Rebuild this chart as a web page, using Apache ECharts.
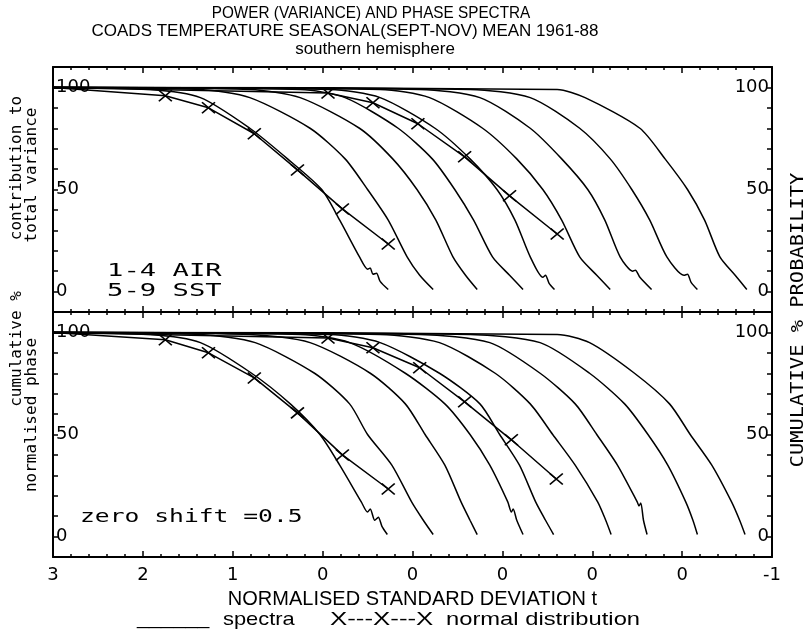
<!DOCTYPE html>
<html><head><meta charset="utf-8">
<script src="https://cdn.jsdelivr.net/npm/echarts@6/dist/echarts.min.js"></script>
<style>html,body{margin:0;padding:0;background:#fff}#c{width:809px;height:631px}</style>
</head><body><div id="c"></div>
<script>
// x axis: value axis from -5 to 3 (reversed), one tick per unit, labels as printed
const xTickLabels = ['3','2','1','0','0','0','0','0','-1']; // for values 3,2,...,-5
const yLabelValues = [0, 50, 100];

// ---- top panel: power (variance) spectra, curves 1-4 AIR, 5-9 SST ----
const topS1 = [[3,100],[1.92,99],[1.36,95],[0.81,80],[0.39,65],[0.01,50],[-0.19,35],[-0.41,17],[-0.50,11],[-0.53,11.5],[-0.56,8.5],[-0.60,9],[-0.64,5],[-0.73,1]];
const topS2 = [[3,100],[1.36,99],[0.81,95],[0.14,80],[-0.25,65],[-0.50,50],[-0.73,35],[-0.94,17],[-1.08,8],[-1.23,1]];
const topS3 = [[3,100],[0.81,99],[0.25,95],[-0.41,80],[-0.78,65],[-1.05,50],[-1.26,35],[-1.45,17],[-1.59,8],[-1.72,1]];
const topS4 = [[3,100],[0.25,99],[-0.25,95],[-0.84,80],[-1.22,65],[-1.47,50],[-1.68,35],[-1.89,17],[-2.08,8],[-2.23,1]];
const topS5 = [[3,100],[-0.08,99],[-0.64,95],[-1.25,80],[-1.64,65],[-1.94,50],[-2.14,35],[-2.31,17],[-2.45,7],[-2.48,8],[-2.52,4],[-2.58,1]];
const topS6 = [[3,100],[-0.64,99],[-1.19,95],[-1.78,80],[-2.16,65],[-2.45,50],[-2.66,35],[-2.86,17],[-3.05,8],[-3.20,1]];
const topS7 = [[3,100],[-1.08,99],[-1.75,95],[-2.31,80],[-2.66,65],[-2.95,50],[-3.14,35],[-3.31,17],[-3.45,10],[-3.48,10.5],[-3.53,7],[-3.66,1]];
const topS8 = [[3,100],[-1.64,99],[-2.31,95],[-2.86,80],[-3.20,65],[-3.44,50],[-3.64,35],[-3.83,17],[-4.02,8],[-4.06,8.5],[-4.10,4.5],[-4.17,1]];
const topS9 = [[3,100],[-2.61,99],[-2.92,95],[-3.53,80],[-3.81,65],[-4.06,50],[-4.25,35],[-4.42,17],[-4.59,8],[-4.72,1]];
const topNormA = [[1.75,95.9],[1.27,90.0],[0.76,77.3],[0.28,59.6],[-0.22,40.5],[-0.73,23.3]];
const topNormB = [[-0.06,97.3],[-0.56,92.5],[-1.06,82.2],[-1.58,66.0],[-2.08,46.9],[-2.61,28.2]];

// ---- bottom panel: cumulative % normalised phase ----
const botS1 = [[3,100],[1.92,99],[1.36,95],[0.79,80],[0.36,65],[0.03,50],[-0.19,35],[-0.43,17],[-0.50,12],[-0.53,13.5],[-0.58,8],[-0.62,9.5],[-0.66,5],[-0.72,1]];
const botS2 = [[3,100],[1.36,99],[0.75,95],[0.09,80],[-0.30,65],[-0.50,50],[-0.77,35],[-0.99,17],[-1.12,8],[-1.23,1]];
const botS3 = [[3,100],[0.81,99],[0.14,95],[-0.53,80],[-0.92,65],[-1.14,50],[-1.36,35],[-1.54,17],[-1.64,8],[-1.72,1]];
const botS4 = [[3,100],[0.25,99],[-0.30,95],[-0.92,80],[-1.36,65],[-1.64,50],[-1.86,35],[-2.06,17],[-2.10,12],[-2.12,13.5],[-2.16,8],[-2.23,1]];
const botS5 = [[3,100],[-0.08,99],[-0.64,95],[-1.30,80],[-1.75,65],[-1.97,50],[-2.19,35],[-2.37,17],[-2.48,8],[-2.57,1]];
const botS6 = [[3,100],[-0.64,99],[-1.30,95],[-1.92,80],[-2.31,65],[-2.56,50],[-2.81,35],[-3.06,17],[-3.15,8],[-3.21,1]];
const botS7 = [[3,100],[-1.08,99],[-1.86,95],[-2.42,80],[-2.81,65],[-3.05,50],[-3.28,35],[-3.50,17],[-3.52,15],[-3.54,16.5],[-3.57,8],[-3.61,1]];
const botS8 = [[3,100],[-1.64,99],[-2.42,95],[-2.97,80],[-3.36,65],[-3.62,50],[-3.84,35],[-4.04,17],[-4.12,8],[-4.17,1]];
const botS9 = [[3,100],[-2.61,99],[-2.97,95],[-3.47,80],[-3.86,65],[-4.09,50],[-4.33,35],[-4.55,17],[-4.64,8],[-4.70,1]];
const botNormA = [[1.75,96.4],[1.27,90.0],[0.76,77.7],[0.28,60.6],[-0.22,40.0],[-0.73,23.3]];
const botNormB = [[-0.06,97.3],[-0.56,92.5],[-1.08,82.7],[-1.58,66.0],[-2.10,47.4],[-2.60,28.2]];

const topSpectra = [topS1,topS2,topS3,topS4,topS5,topS6,topS7,topS8,topS9];
const botSpectra = [botS1,botS2,botS3,botS4,botS5,botS6,botS7,botS8,botS9];

const chart = echarts.init(document.getElementById('c'), null, {renderer:'canvas'});
const BLACK = '#000';
const monoFont = '"DejaVu Sans Mono"';
const LEFT = 53, RIGHT = 809 - 772, TOP = 67, PH = 245;

function xAxes(gi, pos, showLabel) {
  return {
    gridIndex: gi, type: 'value', min: -5, max: 3, interval: 1, inverse: true, position: pos,
    axisLine: {show: true, onZero: false, lineStyle: {color: BLACK, width: 2}},
    axisTick: {show: true, inside: true, length: 6, lineStyle: {color: BLACK, width: 1.5}},
    minorTick: {show: true, splitNumber: 5, length: 3, lineStyle: {color: BLACK, width: 1.5}},
    splitLine: {show: false},
    axisLabel: {show: showLabel, margin: 9, color: BLACK, fontFamily: 'DejaVu Sans', fontSize: 18,
      formatter: v => xTickLabels[Math.round(3 - v)]},
    name: showLabel ? 'NORMALISED STANDARD DEVIATION t' : '',
    nameLocation: 'middle', nameGap: 32,
    nameTextStyle: {color: BLACK, fontFamily: 'Liberation Sans', fontSize: 20}
  };
}
function yAxes(gi, pos) {
  return {
    gridIndex: gi, type: 'value', min: -10, max: 110, interval: 10, position: pos,
    axisLine: {show: true, onZero: false, lineStyle: {color: BLACK, width: 2}},
    axisTick: {show: true, inside: true, length: 5, lineStyle: {color: BLACK, width: 1.5}},
    splitLine: {show: false},
    axisLabel: {show: true, inside: true, margin: 3, color: BLACK, fontFamily: 'DejaVu Sans', fontSize: 18,
      formatter: v => (yLabelValues.indexOf(v) >= 0 ? String(v) : '')}
  };
}

const series = [];
function addPanel(gi, spectra, normA, normB) {
  const yi = gi * 2;
  spectra.forEach((d, k) => series.push({
    type: 'line', xAxisIndex: gi * 2, yAxisIndex: yi, data: d, smooth: 0.25,
    showSymbol: false, symbol: 'none', lineStyle: {color: BLACK, width: 1.5}, silent: true, z: 3
  }));
  [normA, normB].forEach(d => series.push({
    type: 'line', xAxisIndex: gi * 2, yAxisIndex: yi,
    data: [{value: [3, 100], symbol: 'none'}].concat(d.map(p => ({value: p}))),
    symbol: 'path://M0,0L10,10M10,0L0,10', symbolSize: [13, 11], showSymbol: true,
    itemStyle: {color: BLACK, borderColor: BLACK, borderWidth: 1.6},
    lineStyle: {color: BLACK, width: 1.5}, silent: true, z: 4
  }));
}
addPanel(0, topSpectra, topNormA, topNormB);
addPanel(1, botSpectra, botNormA, botNormB);

const titleFont = '17px "Liberation Sans"';
const capFont = '19px "Liberation Sans"';
chart.setOption({
  animation: false,
  backgroundColor: '#fff',
  grid: [
    {left: LEFT, right: RIGHT, top: TOP, height: PH},
    {left: LEFT, right: RIGHT, top: TOP + PH, height: PH}
  ],
  xAxis: [xAxes(0, 'bottom', false), xAxes(0, 'top', false), xAxes(1, 'bottom', true), xAxes(1, 'top', false)],
  yAxis: [yAxes(0, 'left'), yAxes(0, 'right'), yAxes(1, 'left'), yAxes(1, 'right')],
  series: series,
  graphic: [
    {type: 'text', x: 371, y: 13, scaleX: 0.9, style: {text: 'POWER (VARIANCE) AND PHASE SPECTRA', font: titleFont, fill: BLACK, align: 'center', verticalAlign: 'middle'}},
    {type: 'text', x: 345, y: 31, style: {text: 'COADS TEMPERATURE SEASONAL(SEPT-NOV) MEAN 1961-88', font: titleFont, fill: BLACK, align: 'center', verticalAlign: 'middle'}},
    {type: 'text', x: 375, y: 49, style: {text: 'southern hemisphere', font: titleFont, fill: BLACK, align: 'center', verticalAlign: 'middle'}},
    {type: 'text', x: 17, y: 168, rotation: Math.PI / 2, style: {text: 'contribution to', font: '16px ' + monoFont, fill: BLACK, align: 'center', verticalAlign: 'middle'}},
    {type: 'text', x: 32, y: 175, rotation: Math.PI / 2, style: {text: 'total variance', font: '16px ' + monoFont, fill: BLACK, align: 'center', verticalAlign: 'middle'}},
    {type: 'text', x: 17, y: 349, rotation: Math.PI / 2, style: {text: 'cumulative %', font: '16px ' + monoFont, fill: BLACK, align: 'center', verticalAlign: 'middle'}},
    {type: 'text', x: 32, y: 415, rotation: Math.PI / 2, style: {text: 'normalised phase', font: '16px ' + monoFont, fill: BLACK, align: 'center', verticalAlign: 'middle'}},
    {type: 'text', x: 799, y: 320, rotation: Math.PI / 2, scaleX: 1.2, style: {text: 'CUMULATIVE % PROBABILITY', font: '17px ' + monoFont, fill: BLACK, align: 'center', verticalAlign: 'middle'}},
    {type: 'text', x: 107, y: 272, scaleX: 1.6, style: {text: '1-4 AIR', font: '17px ' + monoFont, fill: BLACK, align: 'left', verticalAlign: 'middle'}},
    {type: 'text', x: 107, y: 292, scaleX: 1.6, style: {text: '5-9 SST', font: '17px ' + monoFont, fill: BLACK, align: 'left', verticalAlign: 'middle'}},
    {type: 'text', x: 80, y: 518, scaleX: 1.45, style: {text: 'zero shift =0.5', font: '17px ' + monoFont, fill: BLACK, align: 'left', verticalAlign: 'middle'}},
    {type: 'text', x: 137, y: 619, scaleX: 1.14, style: {text: '______', font: capFont, fill: BLACK, align: 'left', verticalAlign: 'middle'}},
    {type: 'text', x: 223, y: 620, scaleX: 1.15, style: {text: 'spectra', font: capFont, fill: BLACK, align: 'left', verticalAlign: 'middle'}},
    {type: 'text', x: 330, y: 620, scaleX: 1.36, style: {text: 'X---X---X', font: capFont, fill: BLACK, align: 'left', verticalAlign: 'middle'}},
    {type: 'text', x: 446, y: 620, scaleX: 1.25, style: {text: 'normal distribution', font: capFont, fill: BLACK, align: 'left', verticalAlign: 'middle'}}
  ]
});
</script></body></html>
